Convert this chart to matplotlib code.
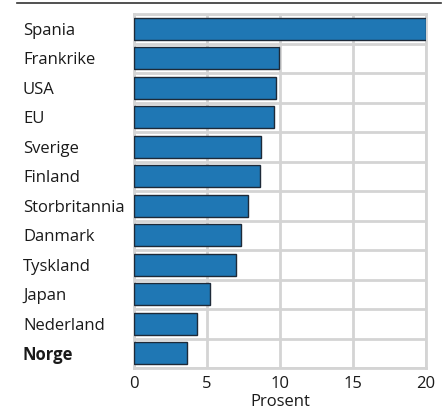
import numpy as np
import matplotlib.pyplot as plt
from matplotlib.lines import Line2D

# Data
land = ['Spania', 'Frankrike', 'USA', 'EU', 'Sverige', 'Finland',
        'Storbritannia', 'Danmark', 'Tyskland', 'Japan', 'Nederland', 'Norge']
verdi = [20.0, 9.9, 9.7, 9.6, 8.7, 8.6, 7.8, 7.3, 7.0, 5.2, 4.3, 3.6]
xticks = [0, 5, 10, 15, 20]

plt.rcParams['font.family'] = ['Open Sans', 'DejaVu Sans']
fs = 12

fig = plt.figure(figsize=(4.47, 4.15), dpi=100)
ax = fig.add_axes([134/447, 1-368/415, (426-134)/447, (368-14)/415])

y = np.arange(len(land))
ax.barh(y, verdi, height=0.75, color='#1f77b4', edgecolor='#1e2a38',
        linewidth=1.0, zorder=3)

ax.set_ylim(len(land) - 0.5, -0.5)
ax.set_xlim(0, 20)
ax.set_xticks(xticks)
ax.set_xticklabels([str(t) for t in xticks], fontsize=fs)
ax.set_yticks(y)
ax.set_yticklabels(land, fontsize=fs, ha='left')
# pad is in points: 111 px at 100 dpi
ax.tick_params(axis='y', length=0, pad=111*72/100, colors='#1a1a1a')
ax.tick_params(axis='x', length=0, pad=6, colors='#1a1a1a')
ax.get_yticklabels()[-1].set_fontweight('bold')

# grid: vertical at ticks, horizontal between rows
ax.set_yticks(np.arange(len(land) + 1) - 0.5, minor=True)
ax.tick_params(axis='y', which='minor', length=0)
ax.grid(axis='x', which='major', color='#d4d4d4', linewidth=2, zorder=0)
ax.grid(axis='y', which='minor', color='#d4d4d4', linewidth=2, zorder=0)
for s in ax.spines.values():
    s.set_color('#d4d4d4')
    s.set_linewidth(2)

ax.set_xlabel('Prosent', fontsize=fs, labelpad=1, color='#1a1a1a')

# top rule
fig.add_artist(Line2D([17/447, 441/447], [1-3/415, 1-3/415],
                      color='#333333', linewidth=1.2))

fig.savefig('out.png', dpi=100)
